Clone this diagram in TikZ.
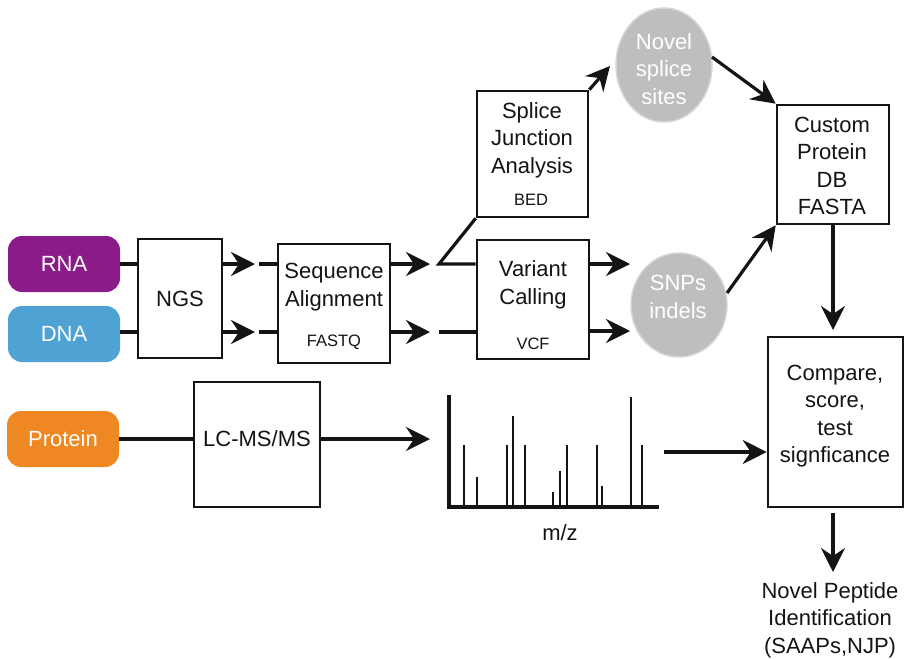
\documentclass[tikz,border=0pt]{standalone}
\usepackage{fontspec}
\setmainfont{Liberation Sans}
\usetikzlibrary{arrows.meta,shapes.geometric}

\definecolor{rnapurple}{RGB}{140,27,138}
\definecolor{dnablue}{RGB}{78,163,212}
\definecolor{protorange}{RGB}{239,136,34}
\definecolor{blobgray}{RGB}{190,190,190}
\definecolor{blobedge}{RGB}{214,214,214}
\definecolor{ink}{RGB}{20,20,20}

\tikzset{
  big/.style={font=\fontsize{22}{27.5}\selectfont, align=center, inner sep=0pt, text=ink},
  small/.style={font=\fontsize{16.5}{20}\selectfont, inner sep=0pt, text=ink},
  source/.style={rounded corners=14pt, minimum width=112pt, minimum height=56pt,
    inner sep=0pt, text=white, font=\fontsize{22}{27.5}\selectfont},
  stagebox/.style={draw=ink, line width=2.6pt, fill=white, inner sep=0pt},
  blob/.style={ellipse, fill=blobgray, draw=blobedge, line width=1.5pt, inner sep=0pt},
  wire/.style={draw=ink, line width=3.2pt},
  arr/.style={wire, -{Stealth[length=24pt, width=24pt, inset=8pt]}},
  peak/.style={draw=ink, line width=2.6pt},
}

\begin{document}
\begin{tikzpicture}[x=1pt, y=-1pt]
\useasboundingbox (0,0) rectangle (904,659);

% sources
\node[source, fill=rnapurple] (rna) at (64,264) {RNA};
\node[source, fill=dnablue] (dna) at (64,334) {DNA};
\node[source, fill=protorange] (prot) at (63,439) {Protein};

% processing boxes
\node[stagebox, minimum width=84pt, minimum height=119pt] (ngs) at (180,298.5) {};
\node[big] (ngst) at (ngs.center) {NGS};

\node[stagebox, minimum width=112pt, minimum height=119pt] (seq) at (334,303.5) {};
\node[big] (seqt) at (334,287) {Sequence\\Alignment};
\node[small] (seqf) at (334,342) {FASTQ};

\node[stagebox, minimum width=111pt, minimum height=126pt] (spl) at (532.5,154) {};
\node[big] (splt) at (532,140) {Splice\\Junction\\Analysis};
\node[small] (splf) at (531,200) {BED};

\node[stagebox, minimum width=112pt, minimum height=119pt] (var) at (533,299.5) {};
\node[big] (vart) at (533,285) {Variant\\Calling};
\node[small] (varf) at (533,344) {VCF};

\node[stagebox, minimum width=112pt, minimum height=119pt] (cdb) at (833,164.5) {};
\node[big] (cdbt) at (832,166) {Custom\\Protein\\DB\\FASTA};

\node[stagebox, minimum width=135pt, minimum height=170pt] (cmp) at (835.5,422) {};
\node[big] (cmpt) at (835,416) {Compare,\\score,\\test\\signficance};

\node[stagebox, minimum width=126pt, minimum height=125pt] (lc) at (257,444.5) {};
\node[big] (lct) at (257,439) {LC-MS/MS};

% intermediate results
\node[blob, minimum width=96pt, minimum height=114pt] (nss) at (664,65) {};
\node[big, text=white] (nsst) at (664,69) {Novel\\splice\\sites};
\node[blob, minimum width=96pt, minimum height=104pt] (snp) at (679,305) {};
\node[big, text=white] (snpt) at (678,297) {SNPs\\indels};

% final output
\node[big] (out) at (830,620) {Novel Peptide\\Identification\\(SAAPs,NJP)};

% junction points
\coordinate (r1) at (255,264);  \coordinate (r1b) at (259,264);
\coordinate (d1) at (255,332);  \coordinate (d1b) at (259,332);
\coordinate (r2) at (430,264);  \coordinate (br) at (439,264);
\coordinate (d2) at (430,332);  \coordinate (d2b) at (439,332);
\coordinate (v1) at (630,264);  \coordinate (v2) at (630,331);
\coordinate (ns) at (610,66);
\coordinate (nsx) at (712,57);  \coordinate (snx) at (727,293);
\coordinate (cdown) at (833,330);
\coordinate (cmpx) at (833,513); \coordinate (outin) at (833,572);
\coordinate (lcx) at (430,439);
\coordinate (spx) at (664,452);

% RNA / DNA sequencing path
\draw[wire] (rna.east) -- (rna.east -| ngs.west);
\draw[wire] (dna.east |- d1) -- (d1 -| ngs.west);
\draw[arr] (r1 -| ngs.east) -- (r1);
\draw[arr] (d1 -| ngs.east) -- (d1);
\draw[wire] (r1b) -- (r1b -| seq.west);
\draw[wire] (d1b) -- (d1b -| seq.west);
\draw[arr] (r2 -| seq.east) -- (r2);
\draw[arr] (d2 -| seq.east) -- (d2);
\draw[wire, line join=miter] (spl.south west) -- (br) -- (br -| var.west);
\draw[wire] (d2b) -- (d2b -| var.west);
\draw[arr] (v1 -| var.east) -- (v1);
\draw[arr] (v2 -| var.east) -- (v2);
\draw[arr] (spl.north east) -- (ns);
\draw[arr] (nsx) -- (cdb.north west);
\draw[arr] (snx) -- (cdb.south west);
\draw[arr] (cdb.south) -- (cdown);
\draw[arr] (cmpx) -- (outin);

% protein / mass spec path
\draw[wire] (prot.east) -- (prot.east -| lc.west);
\draw[arr] (lcx -| lc.east) -- (lcx);
\draw[arr] (spx) -- (spx -| cmp.west);

% mass spectrum
\draw[wire, line cap=rect] (449,397) -- (449,507) -- (657,507);
\foreach \px/\py in {464/445, 477/477, 507/445, 513/416, 525/445, 553/492,
                     560/471, 567/445, 597/445, 602/486, 631/397, 642/445}
  \draw[peak] (\px,507) -- (\px,\py);
\node[big] (mz) at (560,533) {m/z};
\end{tikzpicture}
\end{document}
